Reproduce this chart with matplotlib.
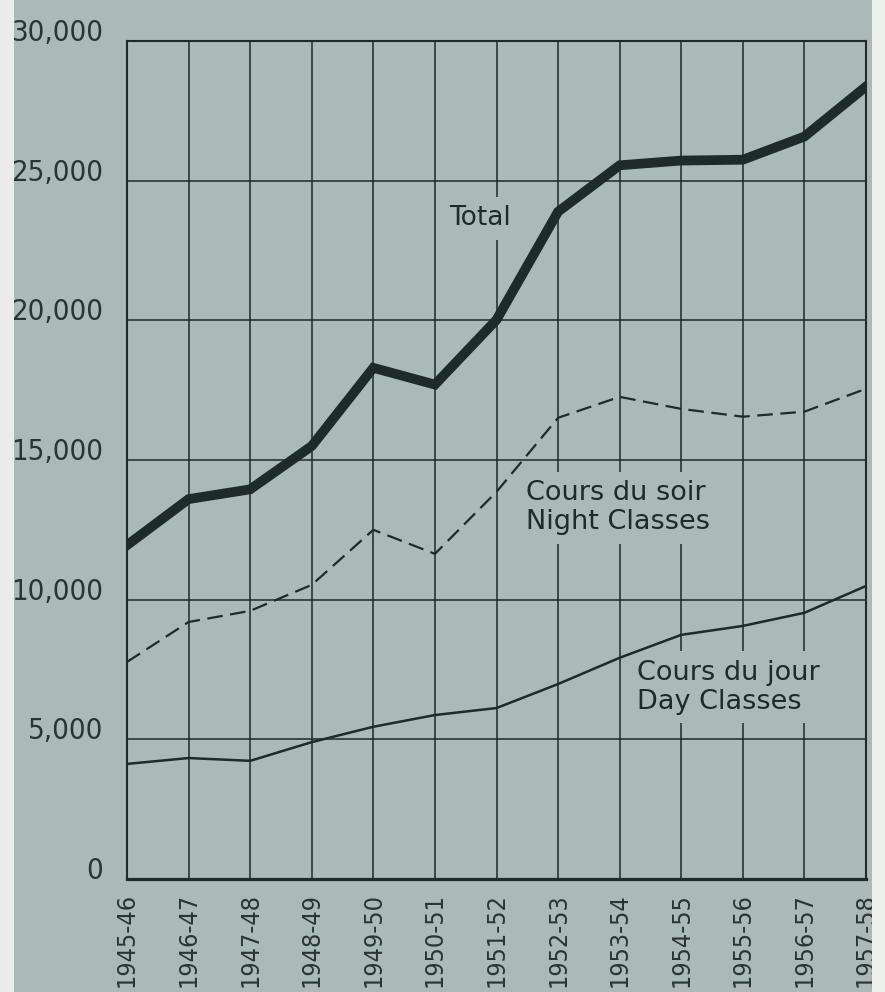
import matplotlib
matplotlib.use("Agg")
import matplotlib.pyplot as plt
from matplotlib.patches import Rectangle

years = ["1945-46", "1946-47", "1947-48", "1948-49", "1949-50", "1950-51", "1951-52",
         "1952-53", "1953-54", "1954-55", "1955-56", "1956-57", "1957-58"]
total = [11950, 13600, 13950, 15500, 18300, 17700, 20020, 23890, 25550, 25720, 25750, 26580, 28370]
night = [7770, 9200, 9600, 10530, 12500, 11640, 13860, 16510, 17260, 16830, 16550, 16730, 17550]
day = [4120, 4330, 4230, 4900, 5450, 5870, 6120, 6980, 7920, 8740, 9060, 9530, 10490]
yticks = [0, 5000, 10000, 15000, 20000, 25000, 30000]
ytick_labels = ["0", "5,000", "10,000", "15,000", "20,000", "25,000", "30,000"]

BG = "#abbab9"
INK = "#1f2a2a"
TICK = "#2b3434"

fig = plt.figure(figsize=(8.85, 9.92), dpi=100, facecolor=BG)
# paper edges
fig.patches.append(Rectangle((0, 0), 14 / 885, 1, transform=fig.transFigure,
                             facecolor="#e9ecea", edgecolor="none"))
fig.patches.append(Rectangle((872 / 885, 0), 13 / 885, 1, transform=fig.transFigure,
                             facecolor="#eef0ee", edgecolor="none"))

ax = fig.add_axes([127 / 885, 1 - 879 / 992, (866 - 127) / 885, (879 - 41) / 992])
ax.set_facecolor(BG)
x = list(range(len(years)))
ax.set_xlim(0, len(years) - 1)
ax.set_ylim(0, 30000)

ax.set_xticks(x)
ax.set_xticklabels(years, rotation=90, fontsize=18, family="DejaVu Sans",
                   fontstretch="condensed", color=TICK)
ax.set_yticks(yticks)
ax.set_yticklabels(ytick_labels, fontsize=21, family="DejaVu Sans",
                   fontstretch="condensed", color=TICK)
for lbl in ax.get_yticklabels():
    lbl.set_verticalalignment("baseline")
ax.tick_params(axis="y", length=0, pad=17)
ax.tick_params(axis="x", length=0, pad=10)

ax.grid(True, color=INK, linewidth=1.1, zorder=0)
ax.set_axisbelow(True)
for s in ax.spines.values():
    s.set_color(INK)
    s.set_linewidth(1.5)
ax.spines["bottom"].set_linewidth(2.3)

ax.plot(x, total, color=INK, linewidth=7, solid_joinstyle="miter", zorder=3)
ax.plot(x, night, color=INK, linewidth=1.6, dashes=(7, 3.4), zorder=3)
ax.plot(x, day, color=INK, linewidth=1.8, zorder=3)

box = dict(facecolor=BG, edgecolor="none", pad=6)
ax.text(5.74, 23650, "Total", ha="center", va="center", fontsize=19, color=INK,
        bbox=box, zorder=2)
ax.text(6.48, 13290, "Cours du soir\nNight Classes", ha="left", va="center", fontsize=19.5,
        color=INK, linespacing=1.15, bbox=box, zorder=2)
ax.text(8.28, 6860, "Cours du jour\nDay Classes", ha="left", va="center", fontsize=19.5,
        color=INK, linespacing=1.15, bbox=box, zorder=2)

fig.savefig("out.png", dpi=100, facecolor=BG)
